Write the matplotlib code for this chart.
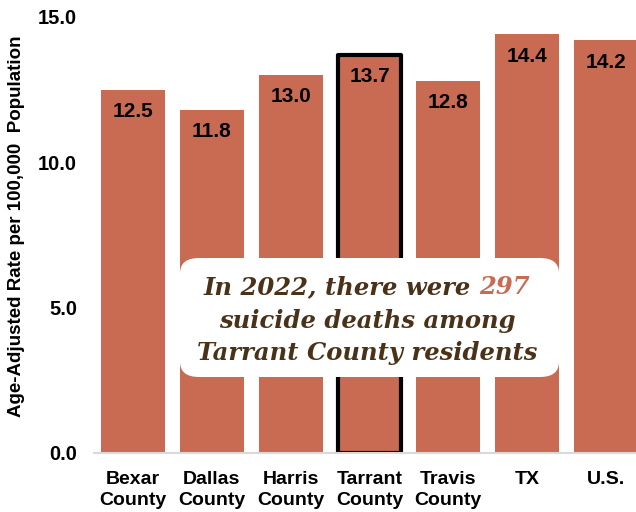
import matplotlib
matplotlib.use("Agg")
import matplotlib.pyplot as plt
from matplotlib.patches import FancyBboxPatch

categories = ["Bexar\nCounty", "Dallas\nCounty", "Harris\nCounty", "Tarrant\nCounty", "Travis\nCounty", "TX", "U.S."]
values = [12.5, 11.8, 13.0, 13.7, 12.8, 14.4, 14.2]
highlight = "Tarrant\nCounty"
yticks = [0.0, 5.0, 10.0, 15.0]

bar_color = "#C96A52"
text_brown = "#4A3218"

plt.rcParams['font.family'] = ['Liberation Sans', 'DejaVu Sans']

fig = plt.figure(figsize=(6.36, 5.12), dpi=100)
ax = fig.add_axes([93.6/636, (512-453)/512, 1 - 93.6/636, 436/512])

x = list(range(len(categories)))
bars = ax.bar(x, values, width=0.81, color=bar_color, zorder=2)
for i, c in enumerate(categories):
    if c == highlight:
        bars[i].set_edgecolor("black")
        bars[i].set_linewidth(3)
        bars[i].set_joinstyle("round")

for xi, v in zip(x, values):
    ax.text(xi, v - 0.75, f"{v:.1f}", ha="center", va="center", fontsize=15,
            fontweight="bold", color="black", zorder=3)

ax.set_xlim(-0.5, 6.38)
ax.set_ylim(0, 15)
ax.set_yticks(yticks)
ax.set_yticklabels([f"{t:.1f}" for t in yticks], fontsize=14.5, fontweight="bold")
ax.set_xticks(x)
ax.set_xticklabels(categories, fontsize=14, fontweight="bold", linespacing=1.3)
ax.tick_params(axis="both", length=0)
ax.tick_params(axis="y", pad=12)
ax.tick_params(axis="x", pad=13)
for s in ["top", "right", "left"]:
    ax.spines[s].set_visible(False)
ax.spines["bottom"].set_color("#D9D9D9")
ax.spines["bottom"].set_linewidth(1.5)

ax.set_ylabel("Age-Adjusted Rate per 100,000  Population", fontsize=13.5,
              fontweight="bold", va="center")
ax.yaxis.set_label_coords((17 - 93.6)/(636 - 93.6), (453 - 226)/436)

# annotation box
box = FancyBboxPatch((180/636, (512-377)/512), (559-180)/636, (377-258)/512,
                     boxstyle="round,pad=0,rounding_size=0.03",
                     transform=fig.transFigure, facecolor="white",
                     edgecolor="none", zorder=5)
fig.patches.append(box)

serif = ['DejaVu Serif']
fkw = dict(fontsize=17.5, fontweight="bold", fontstyle="italic", family=serif,
           zorder=6, va="center")
cx = 367
t1 = fig.text(0, (512-287)/512, "In 2022, there were ", ha="left", color=text_brown, **fkw)
t2 = fig.text(0, (512-287)/512, "297", ha="left", color=bar_color, **fkw)
fig.canvas.draw()
r = fig.canvas.get_renderer()
w1 = t1.get_window_extent(renderer=r).width
w2 = t2.get_window_extent(renderer=r).width
left = cx - (w1 + w2)/2
t1.set_x(left/636)
t2.set_x((left + w1)/636)
fig.text(cx/636, (512-321)/512, "suicide deaths among", ha="center", color=text_brown, **fkw)
fig.text(cx/636, (512-353)/512, "Tarrant County residents", ha="center", color=text_brown, **fkw)

fig.savefig("out.png", dpi=100)
